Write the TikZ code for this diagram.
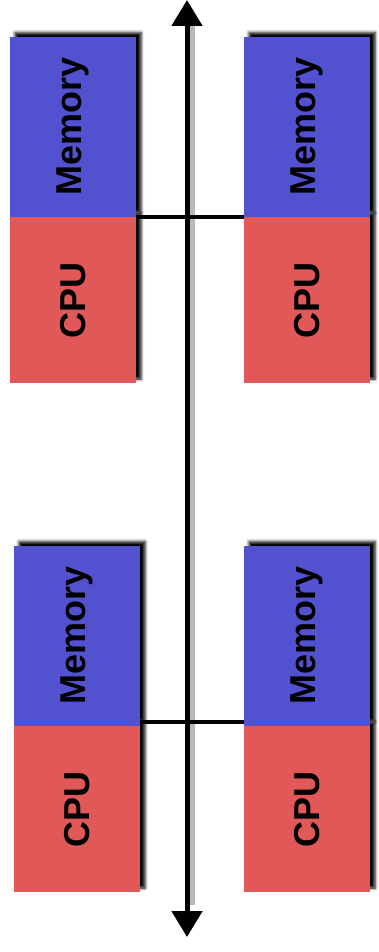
\documentclass[tikz,border=0pt]{standalone}
\usepackage{fontspec}
\setmainfont{Liberation Sans}
\usetikzlibrary{positioning,arrows.meta,shadows.blur}
\definecolor{memblue}{RGB}{82,82,208}
\definecolor{cpured}{RGB}{224,88,88}
\begin{document}
\begin{tikzpicture}[x=1pt,y=-1pt,
  part/.style={rectangle, inner sep=0pt, minimum width=126pt,
    font=\fontsize{36}{38}\selectfont\bfseries,
    blur shadow={shadow xshift=5pt, shadow yshift=4pt, shadow blur radius=3pt, shadow opacity=100}},
  cpu/.style={part, fill=cpured, minimum height=166pt},
  mem/.style={part, fill=memblue, minimum height=180pt},
  bus/.style={line width=4pt},
  axis/.style={line width=5pt, {Triangle[width=30pt,length=26pt]}-{Triangle[width=30pt,length=26pt]}}]
\useasboundingbox (0,0) rectangle (378,952);
% backbone
\coordinate (top) at (187,0);
\coordinate (bot) at (187,937);
\draw[line width=6pt, black!35, opacity=.8] (192,26) -- (192,905);
% nodes: cpu first, memory on top of it
\node[cpu] (cpu1) at (73,300){\rotatebox{90}{CPU}};
\node[mem, above=0pt of cpu1] (mem1){\rotatebox{90}{Memory}};
\node[cpu] (cpu2) at (307,300){\rotatebox{90}{CPU}};
\node[mem, above=0pt of cpu2] (mem2){\rotatebox{90}{Memory}};
\node[cpu] (cpu3) at (77,809){\rotatebox{90}{CPU}};
\node[mem, above=0pt of cpu3] (mem3){\rotatebox{90}{Memory}};
\node[cpu] (cpu4) at (307,809){\rotatebox{90}{CPU}};
\node[mem, above=0pt of cpu4] (mem4){\rotatebox{90}{Memory}};
\draw[bus](mem1.south east) -- (mem2.south west);
\draw[bus]([yshift=4pt]mem3.south east) -- ([yshift=4pt]mem4.south west);
\draw[axis](top) -- (bot);
\end{tikzpicture}
\end{document}
